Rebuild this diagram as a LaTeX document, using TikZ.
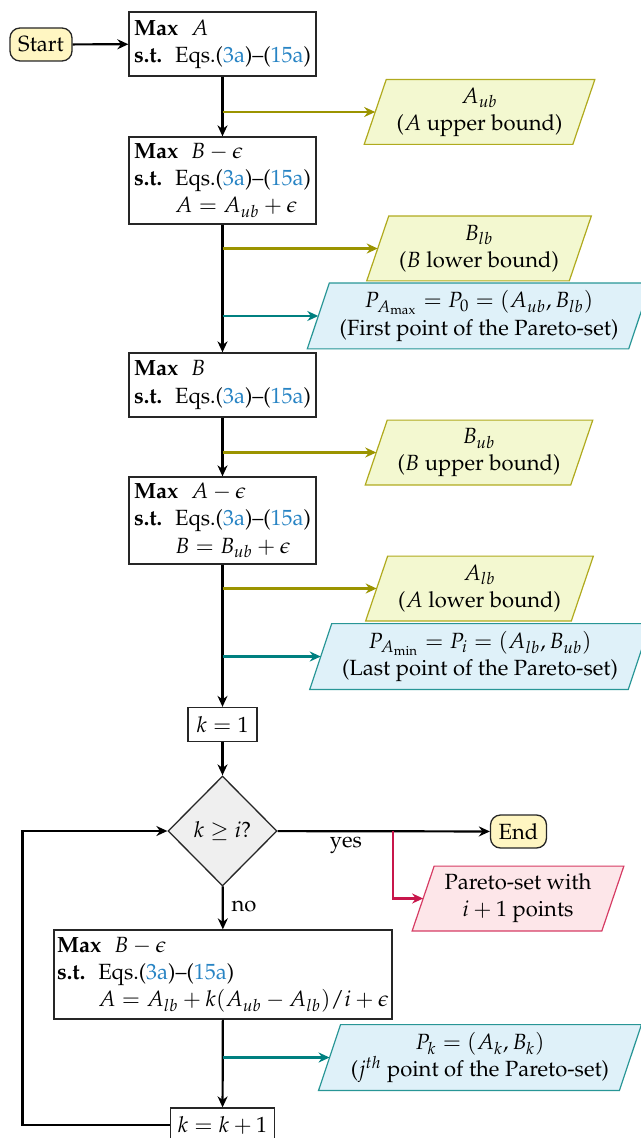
\documentclass[tikz,border=0pt]{standalone}
\usepackage[T1]{fontenc}
\usepackage{mathpazo}
\usetikzlibrary{shapes.geometric,arrows.meta,backgrounds}
\definecolor{linkblue}{RGB}{40,132,196}
\definecolor{olivec}{RGB}{155,148,0}
\definecolor{oliveb}{RGB}{176,170,30}
\definecolor{olivefill}{RGB}{243,248,208}
\definecolor{tealc}{RGB}{0,128,128}
\definecolor{tealb}{RGB}{40,150,150}
\definecolor{bluefill}{RGB}{223,241,249}
\definecolor{redc}{RGB}{200,22,75}
\definecolor{redb}{RGB}{214,60,100}
\definecolor{pinkfill}{RGB}{253,230,233}
\definecolor{termfill}{RGB}{255,246,194}
\definecolor{diafill}{RGB}{239,239,239}
\newcommand{\eqsrange}{Eqs.(\textcolor{linkblue}{3a})--(\textcolor{linkblue}{15a})}
\newcommand{\gapsp}{\hspace{6.5pt}}
\newcommand{\paral}[4]{%
  \begin{pgfonlayer}{background}
  \filldraw[fill=#2,draw=#3,line width=0.6pt]
    ([xshift=5.5pt]#1.north west) -- ([xshift=5.5pt]#1.north east) --
    ([xshift=-5.5pt]#1.south east) -- ([xshift=-5.5pt]#1.south west) -- cycle;
  \end{pgfonlayer}}
\tikzset{
  every node/.style={font=\fontsize{11}{13.6}\selectfont},
  box/.style={draw=black!85, line width=0.65pt, rectangle, align=left, inner sep=0pt},
  term/.style={draw=black!85, line width=0.65pt, rounded corners=5pt, fill=termfill, inner sep=0pt},
  para/.style={rectangle, inner xsep=10.5pt, inner ysep=0pt, minimum height=32pt, align=center},
  arr/.style={line width=1.1pt, -{Stealth[length=5.5pt,width=5pt,inset=1.8pt]}},
}
\begin{document}
\begin{tikzpicture}[x=0.5pt,y=-0.5pt]
\useasboundingbox (0,0) rectangle (641,1138);
% main nodes
\node[term, minimum width=31pt, minimum height=16.5pt] (start) at (41,44.5) {Start};
\node[box, minimum width=93.5pt, minimum height=32pt] (b1) at (222.5,44)
  {\textbf{Max}\gapsp$A$\\\textbf{s.t.}\gapsp\eqsrange};
\node[box, minimum width=93.5pt, minimum height=43.5pt] (b2) at (222.5,180.5)
  {\textbf{Max}\gapsp$B-\epsilon$\\\textbf{s.t.}\gapsp\eqsrange\\\hphantom{\textbf{s.t.}\gapsp}$A=A_{ub}+\epsilon$};
\node[box, minimum width=93.5pt, minimum height=32pt] (b3) at (222.5,385)
  {\textbf{Max}\gapsp$B$\\\textbf{s.t.}\gapsp\eqsrange};
\node[box, minimum width=93.5pt, minimum height=43.5pt] (b4) at (222.5,520.5)
  {\textbf{Max}\gapsp$A-\epsilon$\\\textbf{s.t.}\gapsp\eqsrange\\\hphantom{\textbf{s.t.}\gapsp}$B=B_{ub}+\epsilon$};
\node[box, minimum width=34.5pt, minimum height=17pt, align=center] (k1) at (222.5,724.5) {$k=1$};
\node[diamond, draw=black!85, line width=0.65pt, fill=diafill, inner sep=1pt,
      minimum width=54.5pt, minimum height=55pt] (dia) at (222.5,831) {$k\geq i$?};
\node[term, minimum width=28pt, minimum height=16.5pt] (end) at (518.5,831.5) {End};
\node[box, minimum width=169pt, minimum height=44.5pt] (b5) at (223,974.5)
  {\textbf{Max}\gapsp$B-\epsilon$\\\textbf{s.t.}\gapsp\eqsrange\\\hphantom{\textbf{s.t.}\gapsp}$A=A_{lb}+k(A_{ub}-A_{lb})/i+\epsilon$};
\node[box, minimum width=52pt, minimum height=17pt, align=center] (kk) at (222.5,1125) {$k=k+1$};
% parallelograms
\node[para] (pub) at (479.5,112) {$A_{ub}$\\($A$ upper bound)};
\node[para] (plb) at (479,248.5) {$B_{lb}$\\($B$ lower bound)};
\node[para, minimum height=32.5pt] (pmax) at (479,316) {$P_{A_{\max}}=P_0=(A_{ub},B_{lb})$\\(First point of the Pareto-set)};
\node[para] (pbub) at (479,452.5) {$B_{ub}$\\($B$ upper bound)};
\node[para] (palb) at (479.5,588.5) {$A_{lb}$\\($A$ lower bound)};
\node[para, minimum height=32.5pt] (pmin) at (480,656.5) {$P_{A_{\min}}=P_i=(A_{lb},B_{ub})$\\(Last point of the Pareto-set)};
\node[para] (pink) at (518,898.5) {Pareto-set with\\$i+1$ points};
\node[para, minimum height=32.5pt] (pk) at (480,1057.5) {$P_k=(A_k,B_k)$\\($j^{th}$ point of the Pareto-set)};
\paral{pub}{olivefill}{oliveb}{}
\paral{plb}{olivefill}{oliveb}{}
\paral{pbub}{olivefill}{oliveb}{}
\paral{palb}{olivefill}{oliveb}{}
\paral{pmax}{bluefill}{tealb}{}
\paral{pmin}{bluefill}{tealb}{}
\paral{pk}{bluefill}{tealb}{}
\paral{pink}{pinkfill}{redb}{}
% labels
\node (yes) at (346,845) {yes};
\node (no) at (244,906) {no};
% connectors
\draw[arr] (start) -- (b1);
\draw[arr] (b1) -- (b2);
\draw[arr] (b2) -- (b3);
\draw[arr] (b3) -- (b4);
\draw[arr] (b4) -- (k1);
\draw[arr] (k1) -- (dia);
\draw[arr] (dia) -- (end);
\draw[arr] (dia) -- (b5);
\draw[arr] (b5) -- (kk);
\coordinate (loop) at (22.5,831);
\draw[arr] (kk.west) -| (loop) -- (dia.west);
\coordinate (ry) at (393,831);
\draw[arr, redc] (ry) |- (pink.west);
\draw[arr, olivec] (b1.south |- pub.west) -- (pub.west);
\draw[arr, olivec] (b2.south |- plb.west) -- (plb.west);
\draw[arr, tealc] (b2.south |- pmax.west) -- (pmax.west);
\draw[arr, olivec] (b3.south |- pbub.west) -- (pbub.west);
\draw[arr, olivec] (b4.south |- palb.west) -- (palb.west);
\draw[arr, tealc] (b4.south |- pmin.west) -- (pmin.west);
\draw[arr, tealc] (b5.south |- pk.west) -- (pk.west);
\end{tikzpicture}
\end{document}
